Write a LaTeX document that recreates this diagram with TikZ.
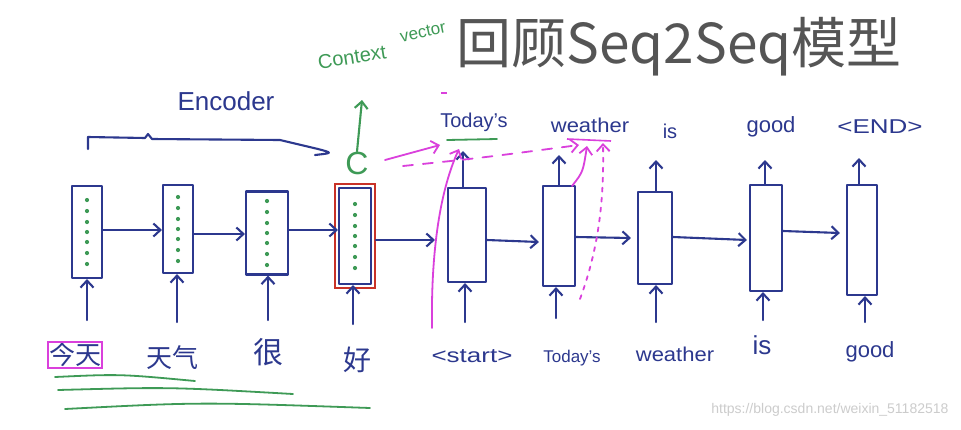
\documentclass[tikz,border=0pt]{standalone}
\usepackage{fontspec}
\setmainfont{Liberation Sans}
\newfontfamily\cjk{Noto Sans CJK SC}
\usetikzlibrary{arrows.meta,calc,fit}
\definecolor{pen}{RGB}{44,56,142}
\definecolor{gpen}{RGB}{62,154,86}
\definecolor{mpen}{RGB}{218,64,220}
\definecolor{rpen}{RGB}{200,50,40}
\definecolor{titlegray}{RGB}{85,85,85}
\tikzset{
  hand/.style={line width=2.1pt, line cap=round, line join=round},
  cell/.style={draw=pen, hand, minimum width=#1, inner sep=0pt},
  harrow/.style={hand, draw=pen, -{Straight Barb[length=7pt,width=13pt]}},
  garrow/.style={hand, draw=gpen, -{Straight Barb[length=7pt,width=13pt]}},
  marrow/.style={line width=1.8pt, line cap=round, draw=mpen, -{Straight Barb[length=7pt,width=13pt]}},
  lbl/.style={text=pen, font=\fontsize{20}{20}\selectfont, inner sep=1pt},
  zlbl/.style={text=pen, font=\cjk\fontsize{26}{26}\selectfont, inner sep=1pt},
  gdot/.style={fill=gpen},
  gline/.style={line width=1.8pt, line cap=round, draw=gpen},
}
\begin{document}
\begin{tikzpicture}[x=1pt,y=-1pt]
\useasboundingbox (0,0) rectangle (961,429);
\fill[white] (0,0) rectangle (961,429);

% title
\node[text=titlegray, font=\cjk\fontsize{55}{55}\selectfont, inner sep=0pt] (title) at (679,47) {回顾Seq2Seq模型};

% context vector
\node[text=gpen, font=\fontsize{20}{20}\selectfont, rotate=9, inner sep=0pt] (ctx) at (352,57) {Context};
\node[text=gpen, font=\fontsize{17}{17}\selectfont, rotate=12, inner sep=0pt] (vec) at (423,32) {vector};

% Encoder label and bracket
\node[text=pen, font=\fontsize{26}{26}\selectfont] (enc) at (226,101) {Encoder};
\draw[hand, draw=pen] (88,149) -- (88,137) -- (145,138) -- (148,134) -- (152,139) -- (280,140) -- (318,149) .. controls (333,153) .. (315,155);

% C
\node[text=gpen, font=\fontsize{32}{32}\selectfont, inner sep=0pt] (C) at (357,163) {C};
\coordinate (ctop) at (362,100);
\draw[garrow] (C.north) -- (ctop);

% encoder cells
\node[cell=30pt, minimum height=92pt] (e1) at (87,232) {};
\node[cell=30pt, minimum height=88pt] (e2) at (178,229) {};
\node[cell=42pt, minimum height=83pt] (e3) at (267,233) {};
\node[cell=32pt, minimum height=96pt] (e4) at (355,236) {};
\node[draw=rpen, line width=1.6pt, fit=(e4), inner sep=3pt] (red) {};
\foreach \n in {e1,e2,e3,e4}{
  \foreach \dy in {-32,-21,-10,0,10,21,32}{
    \fill[gdot] ($(\n.center)+(0,\dy)$) circle (2.1);
  }
}

% decoder cells
\node[cell=38pt, minimum height=94pt] (d1) at (467,235) {};
\node[cell=32pt, minimum height=100pt] (d2) at (559,236) {};
\node[cell=34pt, minimum height=92pt] (d3) at (655,238) {};
\node[cell=32pt, minimum height=106pt] (d4) at (766,238) {};
\node[cell=30pt, minimum height=110pt] (d5) at (862,240) {};

% horizontal arrows
\draw[harrow] (e1.east |- 0,230) -- (e2.west |- 0,230);
\draw[harrow] (e2.east |- 0,234) -- (e3.west |- 0,234);
\draw[harrow] (e3.east |- 0,230) -- (e4.west |- 0,230);
\draw[harrow] (red.east |- 0,240) -- ($(d1.west |- 0,240)+(-12,0)$);
\draw[harrow] (d1.east |- 0,240) -- ($(d2.west |- 0,242)+(-3,0)$);
\draw[harrow] (d2.east |- 0,237) -- ($(d3.west |- 0,238)+(-6,0)$);
\draw[harrow] (d3.east |- 0,237) -- ($(d4.west |- 0,240)+(-2,0)$);
\draw[harrow] (d4.east |- 0,231) -- ($(d5.west |- 0,233)+(-6,0)$);

% bottom labels
\node[zlbl] (l1) at (75,355) {今天};
\node[draw=mpen, line width=1.6pt, fit=(l1), inner sep=0pt] (l1box) {};
\node[zlbl] (l2) at (172,358) {天气};
\node[zlbl, font=\cjk\fontsize{30}{30}\selectfont] (l3) at (268,352) {很};
\node[zlbl, font=\cjk\fontsize{28}{28}\selectfont] (l4) at (357,360) {好};
\node[lbl, xscale=1.3] (l5) at (472,356) {<start>};
\node[lbl, font=\fontsize{17}{17}\selectfont] (l6) at (572,358) {Today's};
\node[lbl, xscale=1.1] (l7) at (675,354) {weather};
\node[lbl, font=\fontsize{26}{26}\selectfont] (l8) at (762,345) {is};
\node[lbl, font=\fontsize{22}{22}\selectfont] (l9) at (870,352) {good};

% bottom arrows
\foreach \c/\x/\y in {e1/87/320, e2/177/322, e3/268/320, e4/353/324, d1/465/322, d2/556/318, d3/656/322, d4/763/320, d5/865/322}{
  \coordinate (b\c) at (\x,\y);
  \draw[harrow] (b\c) -- (\x,0 |- \c.south);
}

% green underlines
\coordinate (u1a) at (55,377); \coordinate (u1b) at (195,381);
\coordinate (u2a) at (58,390); \coordinate (u2b) at (293,394);
\coordinate (u3a) at (65,409); \coordinate (u3b) at (370,408);
\draw[gline] (u1a) .. controls (120,374) .. (u1b);
\draw[gline] (u2a) .. controls (170,387) .. (u2b);
\draw[gline] (u3a) .. controls (200,402) .. (u3b);

% top labels
\node[lbl] (t1) at (474,122) {Today's};
\node[lbl, xscale=1.1] (t2) at (590,125) {weather};
\node[lbl] (t3) at (670,131) {is};
\node[lbl, font=\fontsize{22}{22}\selectfont] (t4) at (771,127) {good};
\node[lbl, xscale=1.3] (t5) at (880,127) {<END>};
\coordinate (g1a) at (447,140); \coordinate (g1b) at (497,139);
\draw[gline] (g1a) -- (g1b);
\coordinate (p1a) at (567,139); \coordinate (p1b) at (611,141);
\draw[line width=1.6pt, draw=mpen] (p1a) -- (p1b);

% top arrows
\draw[harrow] (d1.north -| 463,0) -- (463,151);
\draw[harrow] (d2.north -| 559,0) -- (559,155);
\draw[harrow] (d3.north -| 656,0) -- (656,160);
\draw[harrow] (d4.north -| 765,0) -- (765,160);
\draw[harrow] (d5.north -| 859,0) -- (859,158);

% magenta attention strokes
\coordinate (m0) at (385,160);
\coordinate (m0e) at (440,145);
\draw[marrow] (m0) -- (m0e);
\coordinate (m1) at (432,328);
\coordinate (m1e) at (459,149);
\draw[marrow] (m1) .. controls (431,260) and (438,195) .. (m1e);
\coordinate (m2) at (403,166);
\coordinate (m2e) at (579,145);
\draw[marrow, dash pattern=on 10pt off 10pt] (m2) .. controls (480,158) .. (m2e);
\coordinate (m3) at (572,186);
\coordinate (m3e) at (587,146);
\draw[marrow] (m3) .. controls (583,172) .. (m3e);
\coordinate (m4) at (580,299);
\coordinate (m4e) at (603,143);
\draw[marrow, dash pattern=on 4pt off 6pt] (m4) .. controls (600,245) and (604,195) .. (m4e);
\coordinate (m5a) at (441,93); \coordinate (m5b) at (447,93);
\draw[line width=1.6pt, draw=mpen] (m5a) -- (m5b);

% watermark
\node[text=gray!40, font=\fontsize{14}{14}\selectfont, anchor=east] (wm) at (952,410) {https://blog.csdn.net/weixin\_51182518};
\end{tikzpicture}
\end{document}
